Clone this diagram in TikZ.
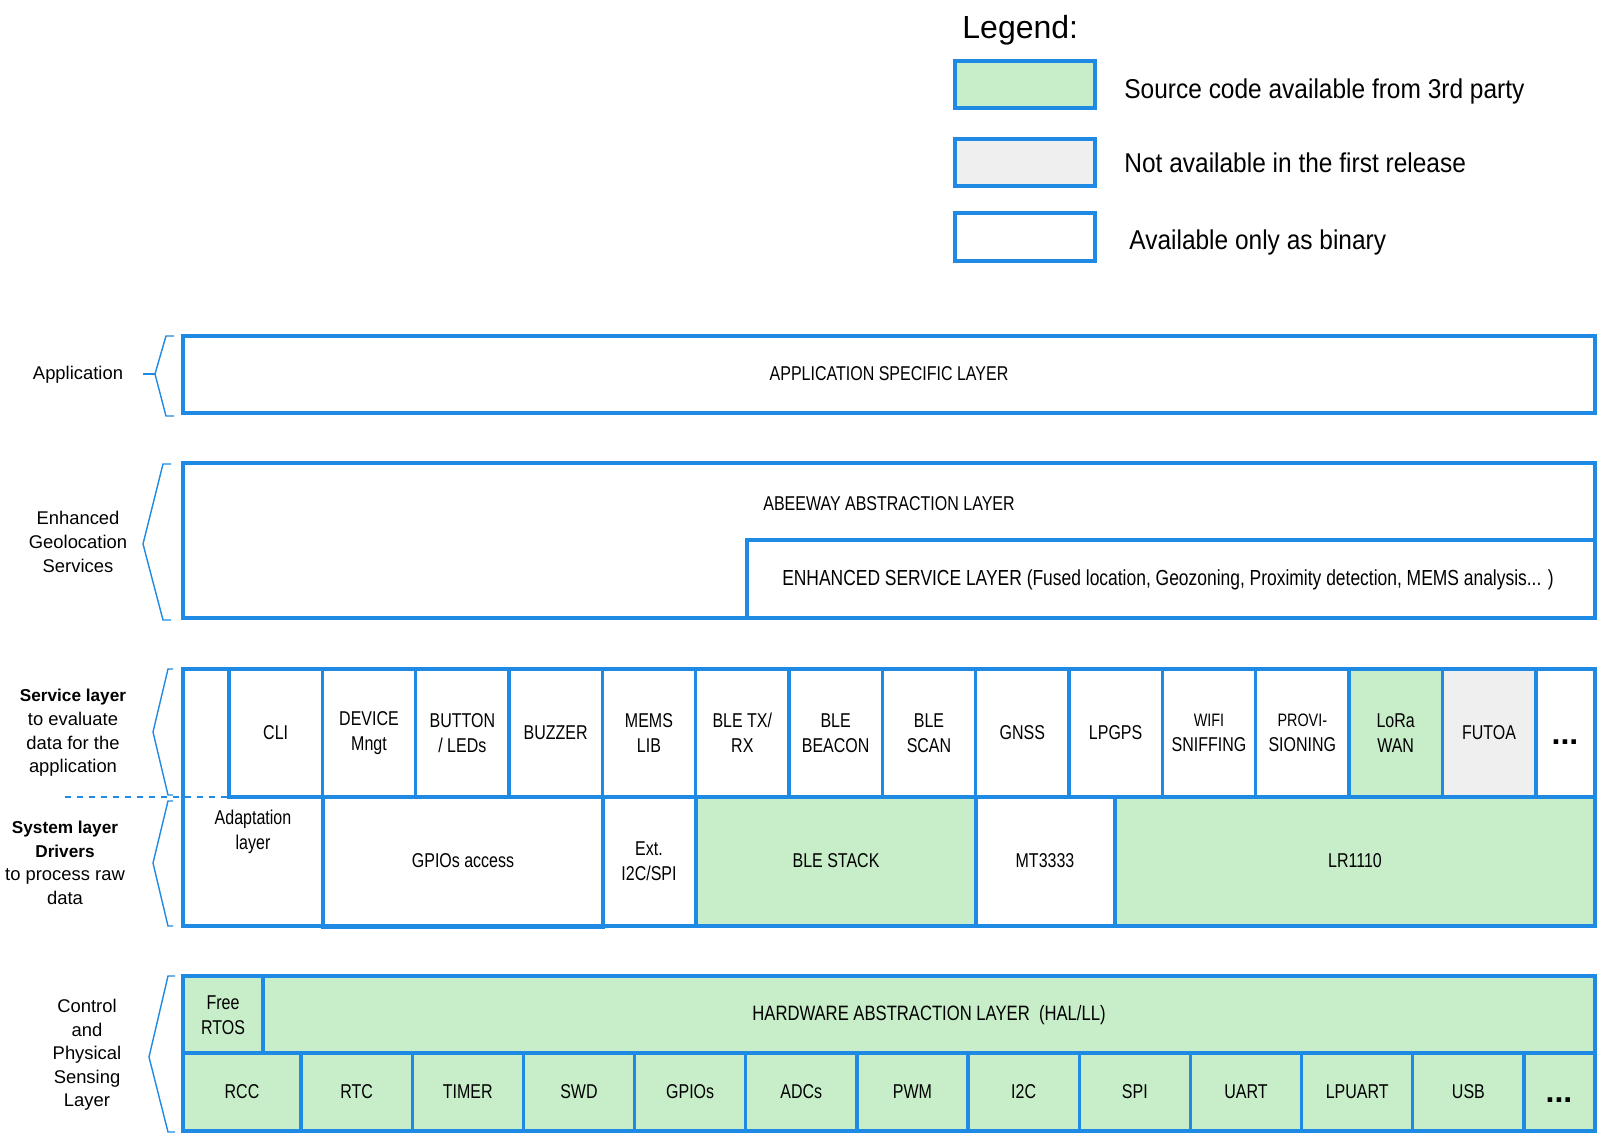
\documentclass[tikz,border=0pt]{standalone}
\usepackage{fontspec}
\setmainfont{Liberation Sans}
\newfontfamily\cellfont{Liberation Sans}[FakeStretch=0.8]
\newfontfamily\legendfont{Liberation Sans}[FakeStretch=0.9]
\definecolor{abblue}{RGB}{30,138,228}
\definecolor{absrc}{RGB}{199,238,200}
\definecolor{abgray}{RGB}{239,239,239}
\newcommand\smallcell{\fontsize{9}{11}\selectfont}
\newcommand\sidebold[1]{{\fontsize{8.6}{11.8}\selectfont\textbf{#1}}}

\begin{document}
\begin{tikzpicture}[x=0.5pt,y=0.5pt,
    layer/.style={draw=abblue,line width=1.6pt},
    brace/.style={draw=abblue,line width=0.7pt},
    celltext/.style={font=\cellfont\fontsize{10}{12.3}\selectfont,align=center,inner sep=0pt},
    sidetext/.style={font=\fontsize{9.2}{11.8}\selectfont,align=center,inner sep=0pt},
    legendtext/.style={font=\legendfont\fontsize{13.6}{16}\selectfont,anchor=west,inner sep=0pt},
    dots/.style={font=\bfseries\fontsize{16}{16}\selectfont,inner sep=0pt}]
  \useasboundingbox (0,0) rectangle (1604,-1140);

  % legend
  \node [font=\fontsize{16}{18}\selectfont,anchor=west,inner sep=0pt] (legend) at (962,-30) {Legend:};
  \draw [layer,fill=absrc] (955,-61) rectangle (1095,-108);
  \draw [layer,fill=abgray] (955,-139) rectangle (1095,-186);
  \draw [layer,fill=white] (955,-213) rectangle (1095,-261);
  \node [legendtext] (lgsrc) at (1124,-91) {Source code available from 3rd party};
  \node [legendtext] (lgnot) at (1124,-163) {Not available in the first release};
  \node [legendtext] (lgbin) at (1129,-242) {Available only as binary};

  % application
  \draw [layer] (183,-336) rectangle (1595,-413);
  \node [celltext] (app) at (889,-374) {APPLICATION SPECIFIC LAYER};
  \node [sidetext] (appside) at (78,-375) {Application};
  \draw [brace] (174,-336) -- (166,-336) -- (155,-374) -- (166,-416) -- (174,-416);
  \draw [brace] (143,-374) -- (155,-374);

  % enhanced geolocation
  \draw [layer] (183,-463) rectangle (1595,-618);
  \draw [layer] (747,-540) rectangle (1595,-618);
  \node [celltext] (abeeway) at (889,-504) {ABEEWAY ABSTRACTION LAYER};
  \node [celltext,font=\cellfont\fontsize{10.9}{12.3}\selectfont] (enhanced) at (1168,-580) {ENHANCED SERVICE LAYER (Fused location, Geozoning, Proximity detection, MEMS analysis... )};
  \node [sidetext] (geoside) at (78,-542) {Enhanced\\Geolocation\\Services};
  \draw [brace] (171,-464) -- (163,-464) -- (143,-544) -- (163,-620) -- (171,-620);

  % service layer
  \foreach \i/\txt/\col in {0/CLI/white, 1/{DEVICE\\Mngt}/white, 2/{BUTTON\\/ LEDs}/white,
      3/BUZZER/white, 4/{MEMS\\LIB}/white, 5/{BLE TX/\\RX}/white, 6/{BLE\\BEACON}/white,
      7/{BLE\\SCAN}/white, 8/GNSS/white, 9/LPGPS/white, 10/{\smallcell WIFI\\SNIFFING}/white,
      11/{\smallcell PROVI-\\SIONING}/white, 12/{LoRa\\WAN}/absrc, 13/FUTOA/abgray} {
    \draw [layer,fill=\col] ({229+93.33*\i},-669) rectangle ({229+93.33*(\i+1)},-797);
    \node [celltext] (svc\i) at ({229+93.33*(\i+0.5)},-733) {\txt};
  }
  \draw [layer] (1536,-669) rectangle (1595,-797);
  \node [dots] (svcmore) at (1565,-742) {...};

  % system layer
  \draw [layer,fill=absrc] (696,-797) rectangle (976,-926);
  \draw [layer,fill=absrc] (1115,-797) rectangle (1595,-926);
  \draw [layer] (229,-669) -- (183,-669) -- (183,-926) -- (1595,-926);
  \draw [layer] (323,-797) rectangle (603,-927);
  \draw [layer] (603,-797) rectangle (696,-926);
  \draw [layer] (976,-797) rectangle (1115,-926);
  \draw [abblue,dashed,line width=0.6pt] (65,-797) -- (229,-797);
  \node [celltext] (adapt) at (253,-832) {Adaptation\\layer};
  \node [celltext] (gpioacc) at (463,-861) {GPIOs access};
  \node [celltext] (exti2c) at (649,-861) {Ext.\\I2C/SPI};
  \node [celltext] (blestack) at (836,-861) {BLE STACK};
  \node [celltext] (mt) at (1045,-861) {MT3333};
  \node [celltext] (lr) at (1355,-861) {LR1110};
  \node [sidetext] (svcside) at (73,-733) {\sidebold{Service layer}\\to evaluate\\data for the\\application};
  \node [sidetext] (sysside) at (65,-863) {\sidebold{System layer}\\\sidebold{Drivers}\\to process raw\\data};
  \draw [brace] (173,-669) -- (168,-669) -- (153,-732) -- (168,-795) -- (173,-795);
  \draw [brace] (173,-801) -- (168,-801) -- (153,-863) -- (168,-926) -- (173,-926);

  % control and physical sensing
  \draw [layer,fill=absrc] (183,-976) rectangle (263,-1053);
  \draw [layer,fill=absrc] (263,-976) rectangle (1595,-1053);
  \node [celltext] (rtos) at (223,-1015) {Free\\RTOS};
  \node [celltext,font=\cellfont\fontsize{10.4}{12.3}\selectfont] (hal) at (929,-1015) {HARDWARE ABSTRACTION LAYER\ \ (HAL/LL)};
  \draw [layer,fill=absrc] (183,-1053) rectangle (301,-1131);
  \node [celltext] (rcc) at (242,-1092) {RCC};
  \foreach \i/\txt in {0/RTC, 1/TIMER, 2/SWD, 3/GPIOs, 4/ADCs, 5/PWM, 6/I2C, 7/SPI,
      8/UART, 9/LPUART, 10/USB} {
    \draw [layer,fill=absrc] ({301+111.18*\i},-1053) rectangle ({301+111.18*(\i+1)},-1131);
    \node [celltext] (hw\i) at ({301+111.18*(\i+0.5)},-1092) {\txt};
  }
  \draw [layer,fill=absrc] (1524,-1053) rectangle (1595,-1131);
  \node [dots] (hwmore) at (1559,-1100) {...};
  \node [sidetext] (ctrlside) at (87,-1055) {Control\\and\\Physical\\Sensing\\Layer};
  \draw [brace] (175,-976) -- (168,-976) -- (149,-1057) -- (168,-1132) -- (175,-1132);
\end{tikzpicture}
\end{document}
